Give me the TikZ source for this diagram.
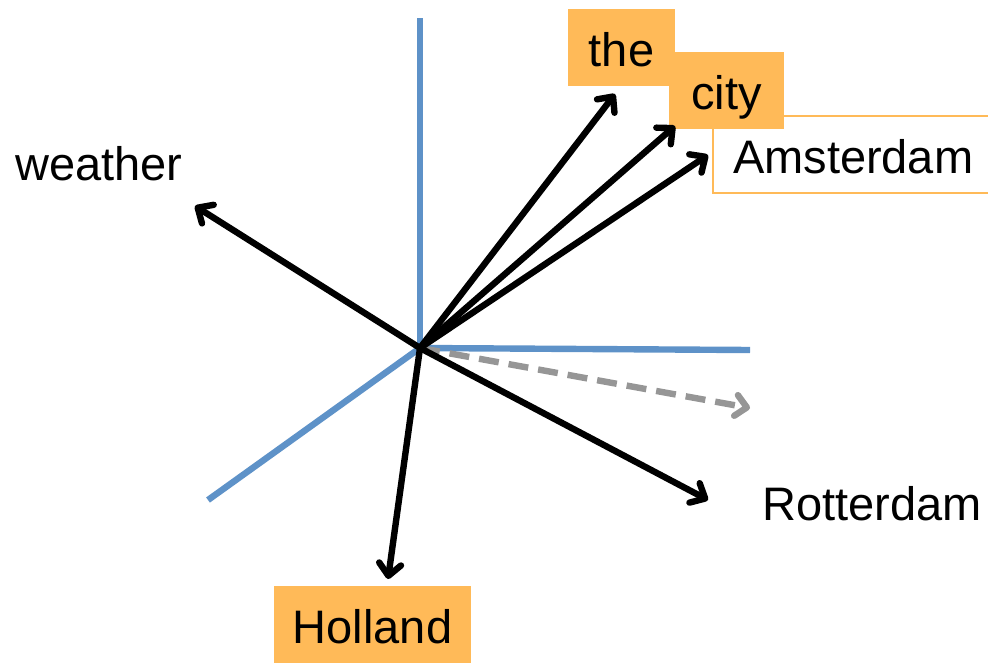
\documentclass[tikz,border=0pt]{standalone}
\usepackage{fontspec}
\setmainfont{Liberation Sans}
\usetikzlibrary{arrows.meta}
\definecolor{axisblue}{RGB}{94,146,200}
\definecolor{labelorange}{RGB}{255,186,88}
\definecolor{dashgray}{RGB}{150,150,150}
\tikzset{
  axis/.style={draw=axisblue, line width=3.2pt},
  vec/.style={draw=black, line width=3.2pt,
    -{Straight Barb[length=6pt,width=11pt,line cap=round,line join=round]}},
  guessvec/.style={draw=dashgray, line width=3.2pt, dash pattern=on 10pt off 5pt,
    -{Straight Barb[length=5.5pt,width=10.5pt,line cap=round,line join=round]}},
  wordfont/.style={font=\fontsize{23.5}{28}\selectfont},
  word/.style={wordfont, inner sep=0pt, anchor=base west},
  wordbox/.style={wordfont, fill=labelorange, inner sep=0pt,
    text height=19pt, text depth=0pt, minimum height=38.5pt},
  outlinebox/.style={wordfont, draw=labelorange, line width=1pt, fill=white,
    inner ysep=0pt, inner xsep=10pt, text height=19pt, text depth=0pt,
    minimum height=38.5pt, text width=134pt, align=left, anchor=west}
}
\begin{document}
\begin{tikzpicture}[x=0.5pt, y=-0.5pt]
  \useasboundingbox (0,0) rectangle (988,663);

  % coordinate axes
  \coordinate (o) at (420,348);
  \coordinate (ytop) at (420,18);
  \coordinate (xend) at (750,350);
  \coordinate (zend) at (208,500);
  \draw[axis] (o) -- (ytop);
  \draw[axis] (o) -- (xend);
  \draw[axis] (o) -- (zend);

  % arrow tips of the word vectors
  \coordinate (tthe) at (615,94);
  \coordinate (tcity) at (675,126);
  \coordinate (tams) at (708,155);
  \coordinate (tweather) at (195,206);
  \coordinate (trot) at (708,500);
  \coordinate (thol) at (388,579);
  \coordinate (tguess) at (750,408);

  % word labels
  \node[outlinebox] (ams) at (712,154.5) {Amsterdam};
  \node[wordbox, minimum width=57.5pt] (city) at (726.5,90.5) {city};
  \node[wordbox, minimum width=53.5pt] (the) at (621.5,48) {the};
  \node[wordbox, minimum width=98.5pt] (hol) at (372.5,624.5) {Holland};
  \node[word] (weather) at (15,180) {weather};
  \node[word] (rot) at (762,520) {Rotterdam};

  % word vectors
  \draw[guessvec] (o) -- (tguess);
  \draw[vec] (o) -- (tthe);
  \draw[vec] (o) -- (tcity);
  \draw[vec] (o) -- (tams);
  \draw[vec] (o) -- (tweather);
  \draw[vec] (o) -- (trot);
  \draw[vec] (o) -- (thol);
\end{tikzpicture}
\end{document}
